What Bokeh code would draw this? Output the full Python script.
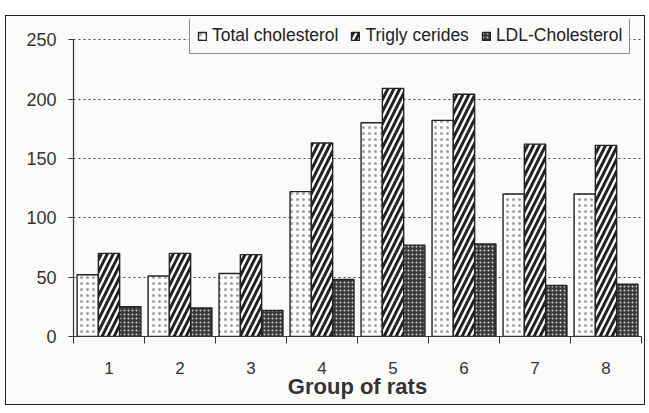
from bokeh.plotting import figure
from bokeh.models import ColumnDataSource, FixedTicker, Legend, LegendItem
from bokeh.embed import file_html
from bokeh.resources import INLINE
from bokeh.transform import dodge

groups = [1, 2, 3, 4, 5, 6, 7, 8]
group_labels = ["1", "2", "3", "4", "5", "6", "7", "8"]
total_cholesterol = [52, 51, 53, 122, 180, 182, 120, 120]
triglycerides = [70, 70, 69, 163, 209, 204, 162, 161]
ldl_cholesterol = [25, 24, 22, 48, 77, 78, 43, 44]
y_ticks = [0, 50, 100, 150, 200, 250]
series_names = ["Total cholesterol", "Trigly cerides", "LDL-Cholesterol"]

src = ColumnDataSource(dict(groups=groups, tc=total_cholesterol,
                            tg=triglycerides, ldl=ldl_cholesterol))

BG = "#fbfbf9"
p = figure(width=640, height=390, x_range=(0.5, 8.5), y_range=(0, 267),
           output_backend="svg", toolbar_location=None,
           min_border_left=67, min_border_right=5, min_border_top=3,
           min_border_bottom=70, background_fill_color=BG,
           border_fill_color=BG)
p.outline_line_color = None
p.styles = {"border": "1.5px solid #222", "margin-left": "5px", "margin-top": "15px"}

bw = 0.3
r1 = p.vbar(x=dodge("groups", -bw, range=p.x_range), top="tc", width=bw, source=src,
            fill_color="white", line_color="#222", line_width=1.4,
            hatch_pattern="dot", hatch_color="#a0a0a0", hatch_scale=6, hatch_weight=0.5)
r2 = p.vbar(x=dodge("groups", 0, range=p.x_range), top="tg", width=bw, source=src,
            fill_color="white", line_color="#222", line_width=1.4,
            hatch_pattern="right_diagonal_line", hatch_color="#222", hatch_scale=12,
            hatch_weight=3)
r3 = p.vbar(x=dodge("groups", bw, range=p.x_range), top="ldl", width=bw, source=src,
            fill_color="#3a3a3a", line_color="#222", line_width=1.4,
            hatch_pattern="dot", hatch_color="#cfcfcf", hatch_scale=4, hatch_weight=1.2)

# x axis
p.xaxis.ticker = FixedTicker(ticks=groups, minor_ticks=[g - 0.5 for g in groups] + [8.5])
p.xaxis.major_label_overrides = {g: l for g, l in zip(groups, group_labels)}
p.xaxis.major_tick_line_color = None
p.xaxis.minor_tick_out = 7
p.xaxis.minor_tick_in = 0
p.xaxis.minor_tick_line_color = "#333"
p.xaxis.axis_line_color = "#333"
p.xaxis.axis_line_width = 1.2
p.xaxis.major_label_standoff = 18
p.xaxis.major_label_text_font = "Liberation Sans"
p.xaxis.major_label_text_font_size = "17px"
p.xaxis.major_label_text_color = "#333"
p.xaxis.axis_label = "Group of rats"
p.xaxis.axis_label_text_font = "Liberation Sans"
p.xaxis.axis_label_text_font_size = "22px"
p.xaxis.axis_label_text_font_style = "bold"
p.xaxis.axis_label_text_color = "#333"
p.xaxis.axis_label_standoff = -3

# y axis
p.yaxis.ticker = FixedTicker(ticks=y_ticks)
p.yaxis.bounds = (0, 250)
p.yaxis.minor_tick_line_color = None
p.yaxis.major_tick_out = 5
p.yaxis.major_tick_in = 0
p.yaxis.major_tick_line_color = "#333"
p.yaxis.axis_line_color = "#333"
p.yaxis.axis_line_width = 1.2
p.yaxis.major_label_standoff = 12
p.yaxis.major_label_text_font = "Liberation Sans"
p.yaxis.major_label_text_font_size = "18px"
p.yaxis.major_label_text_color = "#333"

p.xgrid.grid_line_color = None
p.ygrid.grid_line_color = "#444"
p.ygrid.grid_line_dash = "2 3"
p.ygrid.grid_line_width = 1
p.ygrid.bounds = (0, 250)

legend = Legend(items=[LegendItem(label=n, renderers=[r]) for n, r in
                       zip(series_names, [r1, r2, r3])],
                orientation="horizontal", location=(116, 282),
                label_text_font="Liberation Sans", label_text_font_size="17.5px",
                label_text_color="#222", glyph_width=10, glyph_height=10,
                label_standoff=5, spacing=12, padding=7, margin=0,
                border_line_color="#222", border_line_width=1.2,
                background_fill_color=BG, background_fill_alpha=1)
p.add_layout(legend, "center")

open("out.html", "w").write(file_html(p, INLINE))
